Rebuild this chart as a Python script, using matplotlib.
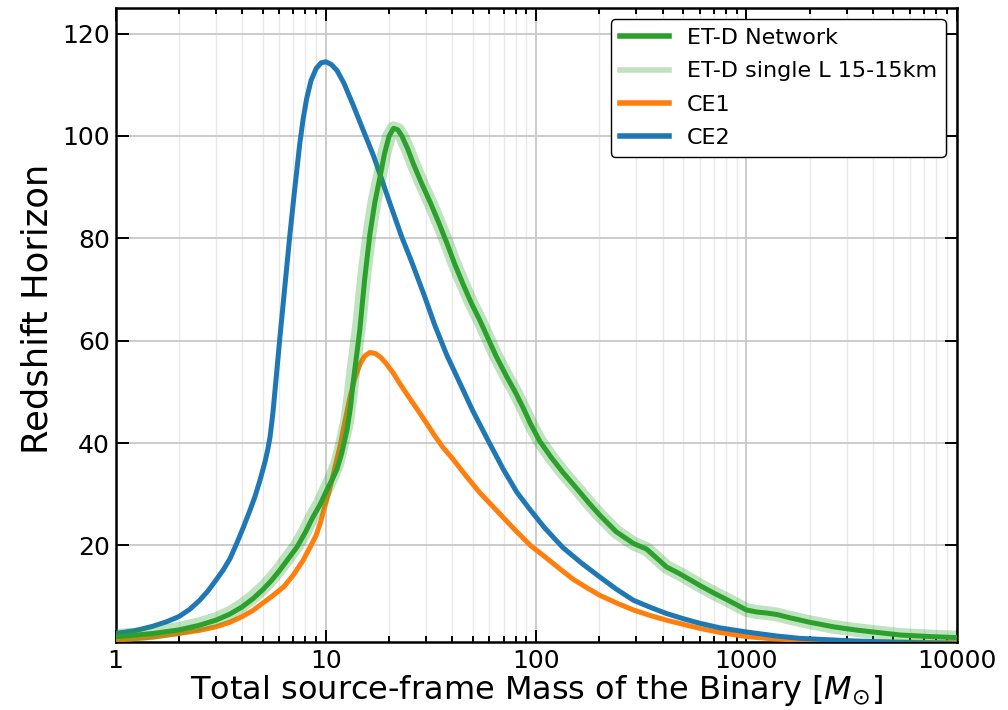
import matplotlib
matplotlib.use("Agg")
import matplotlib.pyplot as plt
from matplotlib.lines import Line2D
from matplotlib.ticker import FixedLocator, NullFormatter, LogLocator

# ---------------- data ----------------
ce2_mass = [1, 1.25, 1.5, 1.75, 2, 2.25, 2.5, 2.75, 3, 3.25, 3.5, 3.77, 4.05, 4.36, 4.6,
            4.86, 5.15, 5.3, 5.43, 5.6, 5.8, 6.06, 6.4, 6.74, 7.1, 7.52, 7.8, 8.1, 8.5, 9.0,
            9.5, 10, 10.6, 11.3, 12.2, 13.5, 15, 16.8, 18.1, 20, 23, 25.5, 29.6, 33,
            37.6, 44, 50, 60, 70, 81, 94, 110, 134, 165, 200, 240, 290, 350, 417, 500,
            600, 750, 1000, 1400, 1800, 2400, 3000, 5000, 10000]
ce2_z = [2.8, 3.4, 4.2, 5.1, 6.1, 7.5, 9.2, 11.1, 13.2, 15.2, 17.4, 20.4, 23.5, 26.9, 29.5,
         32.7, 36.5, 38.8, 41.2, 45.8, 52.5, 61, 71, 80.5, 89.3, 98.5, 103.3, 107.2, 110.8, 113.2,
         114.3, 114.5, 114, 112.8, 110.3, 106, 101.3, 96.3, 92.5, 87.3, 80.2, 75.6, 68.5, 63,
         57.2, 51.2, 46.3, 40, 34.8, 30.4, 26.9, 23.4, 19.6, 16.5, 13.9, 11.5, 9.3, 7.9, 6.7, 5.7,
         4.8, 3.9, 3.1, 2.3, 1.85, 1.6, 1.4, 1.1, 0.8]

ce1_mass = [1, 1.5, 2, 2.5, 3, 3.5, 4, 4.5, 5, 5.6, 6.3, 7, 7.8, 8.5, 9.0, 9.4, 9.8, 10.3,
            10.8, 11.2, 11.7, 12.3, 13, 13.7, 14.5, 15.3, 16.2, 17.2, 18.3, 19.4, 21, 22.5,
            25, 27, 30, 32.5, 36, 40, 46, 54, 62, 70, 80, 94, 110, 130, 150, 175, 200, 240,
            290, 350, 417, 500, 600, 750, 1000, 1300, 1800, 3000, 10000]
ce1_z = [1.5, 2.1, 2.8, 3.4, 4.1, 5.0, 6.1, 7.3, 8.7, 10.2, 11.9, 14.2, 17.1, 20, 22, 24.3,
         27, 30.2, 33.5, 36.3, 39.5, 44, 48.8, 52.5, 55.3, 57, 57.7, 57.5, 56.7, 55.5, 53.6,
         51.6, 48.8, 46.8, 44, 41.8, 39.2, 37, 33.8, 30.3, 27.7, 25.4, 22.9, 20, 17.8, 15.4,
         13.4, 11.7, 10.3, 8.8, 7.4, 6.3, 5.4, 4.6, 3.8, 3.0, 2.2, 1.8, 1.5, 1.25, 1.0]

etd_mass = [1, 1.25, 1.5, 2, 2.5, 3, 3.5, 4, 4.5, 5, 5.5, 6, 6.6, 7.3, 8, 8.7, 9.4, 10.1,
            10.7, 11.3, 11.9, 12.6, 13.1, 13.5, 14.0, 14.5, 15.3, 16.2, 17.1, 18.1, 19.0,
            20.0, 21, 22, 23, 24.5, 26, 28.5, 31.4, 34.5, 37.7, 41, 45, 49, 54, 59, 64.5,
            72, 80, 87, 94, 104, 118, 134, 160, 180, 200, 240, 290, 335, 380, 417, 480,
            540, 600, 700, 800, 900, 1000, 1120, 1250, 1400, 1600, 2000, 2600, 3300,
            4000, 5400, 7500, 10000]
etd_z = [2.2, 2.5, 2.8, 3.5, 4.4, 5.4, 6.6, 8.0, 9.6, 11.3, 13.1, 15.0, 17.3, 19.7, 22.6,
         25.6, 28.0, 30.8, 32.8, 34.9, 38, 42.5, 47, 52, 57, 62, 72, 80.8, 87, 92, 96.5,
         100, 101.5, 101.2, 100, 97.5, 94.7, 90.8, 87, 83, 79, 75, 71, 67.5, 64, 60.5, 57,
         53.2, 49.8, 46.8, 43.8, 40.4, 37.2, 34.3, 30.6, 28.1, 26, 22.7, 20.4, 19.3, 17.3, 15.8,
         14.5, 13.3, 12.2, 10.7, 9.5, 8.4, 7.4, 7.0, 6.8, 6.5, 5.9, 5.0, 4.1, 3.5, 3.1, 2.5,
         2.2, 2.0]

etd_single_mass = etd_mass
etd_single_z = [2.3, 2.6, 2.9, 3.7, 4.6, 5.6, 6.8, 8.3, 9.9, 11.6, 13.4, 15.3, 17.6, 20.0,
                22.9, 26.0, 28.4, 31.2, 33.4, 35.8, 39.5, 44, 49, 54, 59, 64, 73.5, 81.5,
                87.5, 92.3, 96.7, 100, 101.5, 101.2, 100, 97.5, 94.7, 90.8, 87, 83, 79, 75,
                71, 67.5, 64, 60.5, 57, 53.2, 49.8, 46.8, 43.8, 40.4, 37.2, 34.3, 30.6, 28.1, 26,
                22.7, 20.4, 19.3, 17.3, 15.8, 14.5, 13.3, 12.2, 10.7, 9.5, 8.4, 7.4, 7.0,
                6.8, 6.5, 5.9, 5.0, 4.1, 3.5, 3.1, 2.5, 2.2, 2.0]

xtick_vals = [1, 10, 100, 1000, 10000]
xtick_labels = ["1", "10", "100", "1000", "10000"]
ytick_vals = [20, 40, 60, 80, 100, 120]

labels = ["ET-D Network", "ET-D single L 15-15km", "CE1", "CE2"]
c_green, c_orange, c_blue = "#2ca02c", "#ff7f0e", "#1f77b4"

# ---------------- figure ----------------
fig = plt.figure(figsize=(10.08, 7.10), dpi=100)
ax = fig.add_axes([0.1146, 0.0962, 0.9491 - 0.1146, 0.9887 - 0.0962])

style = dict(solid_capstyle="round", solid_joinstyle="round")
ax.plot(ce1_mass, ce1_z, color=c_orange, lw=3.6, zorder=3, **style)
ax.plot(ce2_mass, ce2_z, color=c_blue, lw=3.6, zorder=3.1, **style)
ax.plot(etd_single_mass, etd_single_z, color=c_green, lw=10, alpha=0.3, zorder=3.2, **style)
ax.plot(etd_mass, etd_z, color=c_green, lw=3.6, zorder=3.3, **style)

ax.set_xscale("log")
ax.set_xlim(1, 10000)
ax.set_ylim(1.2, 125)

ax.xaxis.set_major_locator(FixedLocator(xtick_vals))
ax.set_xticklabels(xtick_labels)
ax.xaxis.set_minor_locator(LogLocator(base=10, subs=range(2, 10), numticks=20))
ax.xaxis.set_minor_formatter(NullFormatter())
ax.set_yticks(ytick_vals)

ax.grid(True, which="major", color="#c8c8c8", lw=1.3, zorder=0)
ax.grid(True, which="minor", axis="x", color="#e8e8e8", lw=1.0, zorder=0)
ax.set_axisbelow(True)

ax.tick_params(which="both", direction="in", top=True, right=True, labelsize=18,
               width=1.4, colors="black")
ax.tick_params(which="major", length=9)
ax.tick_params(which="minor", length=4.5)
ax.tick_params(axis="x", which="major", pad=5)
ax.tick_params(axis="y", which="major", pad=4)
for sp in ax.spines.values():
    sp.set_linewidth(1.8)
    sp.set_color("black")

ax.set_xlabel(r"Total source-frame Mass of the Binary [$M_{\odot}$]", fontsize=23,
              labelpad=0)
ax.set_ylabel("Redshift Horizon", fontsize=25.5)
ax.yaxis.set_label_coords(-0.072, 0.525)

handles = [
    Line2D([], [], color=c_green, lw=4),
    Line2D([], [], color=c_green, lw=4, alpha=0.3),
    Line2D([], [], color=c_orange, lw=4),
    Line2D([], [], color=c_blue, lw=4),
]
leg = ax.legend(handles, labels, loc="upper right", fontsize=16, frameon=True,
                fancybox=True, framealpha=1.0, edgecolor="black",
                handlelength=2.2, borderaxespad=0.5, labelspacing=0.6)
leg.get_frame().set_linewidth(1.0)

fig.savefig("out.png", dpi=100)
